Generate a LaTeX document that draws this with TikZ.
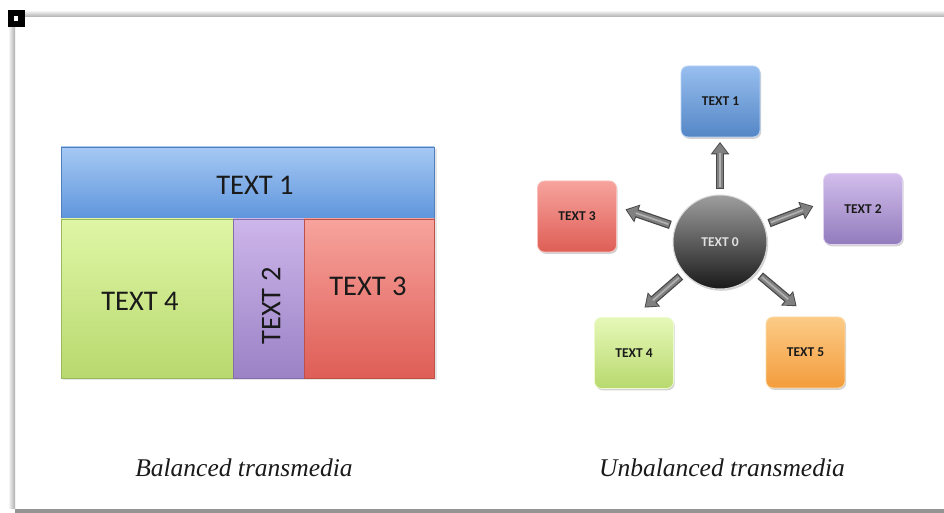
\documentclass[tikz,border=0pt]{standalone}
\usepackage{fontspec}
\setmainfont{Liberation Serif}
\newfontfamily\labelfont{Carlito}
\usetikzlibrary{shadows,arrows.meta,calc}

% tile colours (top / bottom of each gradient)
\definecolor{blueT}{HTML}{A6C9F4}
\definecolor{blueB}{HTML}{5E95DC}
\definecolor{greenT}{HTML}{DFF6A6}
\definecolor{greenB}{HTML}{B8D96E}
\definecolor{purpT}{HTML}{CDB6EA}
\definecolor{purpB}{HTML}{9A82C6}
\definecolor{redT}{HTML}{F7A39D}
\definecolor{redB}{HTML}{DE5E56}
\definecolor{orangeT}{HTML}{FCCB86}
\definecolor{orangeB}{HTML}{F39C3C}
\definecolor{inkdark}{HTML}{1A1A1A}

\tikzset{
  tile/.style 2 args={rectangle, inner sep=0pt, outer sep=0pt,
    top color=#1, bottom color=#2, draw=#2!85!black, line width=0.5pt},
  bigtext/.style={font=\labelfont\fontsize{28.5}{32}\selectfont, text=inkdark, inner sep=0pt},
  hubbox/.style 2 args={rectangle, rounded corners=7pt, minimum width=79pt,
    minimum height=71pt, top color=#1, bottom color=#2,
    draw=#1!70!white, line width=0.8pt,
    drop shadow={shadow xshift=1.2pt, shadow yshift=-1.8pt, opacity=0.35},
    font=\labelfont\bfseries\fontsize{13.5}{15}\selectfont, text=inkdark},
  hub/.style={circle, minimum size=94pt, inner sep=0pt,
    top color=black!38, bottom color=black!90, draw=black!15, line width=1pt,
    drop shadow={shadow xshift=1.2pt, shadow yshift=-1.8pt, opacity=0.35},
    font=\labelfont\bfseries\fontsize{13.5}{15}\selectfont, text=white!88!black},
  arrowedge/.style={line width=8.5pt, draw=black!72, shorten <=5pt,
    -{Triangle[width=18pt,length=12.5pt]}},
  arrowbody/.style={line width=6pt, draw=black!50, shorten <=6.2pt, shorten >=1.5pt,
    -{Triangle[width=14.5pt,length=10pt]}},
  arrowshine/.style={line width=1.6pt, draw=black!30, shorten <=7pt, shorten >=11pt},
  caption/.style={font=\itshape\fontsize{25.5}{28}\selectfont, text=inkdark, inner sep=0pt}
}

\begin{document}
\begin{tikzpicture}[x=1pt, y=1pt]
  \useasboundingbox (0,0) rectangle (944,513);
  \fill[white] (0,0) rectangle (944,513);

  % page edges
  \shade[top color=white, bottom color=black!32] (8,496) rectangle (944,503);
  \shade[left color=white, right color=black!32] (8,4) rectangle (15,496);
  \fill[black!42] (15,0) rectangle (944,4);
  \fill[black] (8,486) rectangle (25,503);
  \fill[white] (14,492) rectangle (18,496.5);

  % ---------- balanced layout ----------
  \fill[black!10] (63,133) rectangle (436.5,364);
  \node[tile={blueT}{blueB}, minimum width=373pt, minimum height=72pt,
        anchor=south west] (b1) at (61,294) {};
  \node[tile={greenT}{greenB}, minimum width=172pt, minimum height=159pt,
        anchor=south west] (b4) at (61,135) {};
  \node[tile={purpT}{purpB}, minimum width=71pt, minimum height=159pt,
        anchor=south west] (b2) at (233,135) {};
  \node[tile={redT}{redB}, minimum width=130pt, minimum height=159pt,
        anchor=south west] (b3) at (304,135) {};

  \node[bigtext] (l1) at (255,328) {TEXT 1};
  \node[bigtext] (l4) at (140,212) {TEXT 4};
  \node[bigtext, rotate=90] (l2) at (271,207) {TEXT 2};
  \node[bigtext] (l3) at (368,227) {TEXT 3};

  % ---------- unbalanced layout ----------
  \node[hubbox={blueT!80!blueB}{blueB!90!black}] (h1) at (720.5,411.5) {TEXT 1};
  \node[hubbox={purpT!90!white}{purpB!95!black}] (h2) at (863,304) {TEXT 2};
  \node[hubbox={redT}{redB}] (h3) at (577,296.5) {TEXT 3};
  \node[hubbox={greenT!80!white}{greenB}] (h4) at (634,160) {TEXT 4};
  \node[hubbox={orangeT}{orangeB}] (h5) at (805.5,160.5) {TEXT 5};

  \node[hub] (c0) at (720,271) {TEXT 0};

  \foreach \ang/\n in {90/1, 21/2, 161/3, 221/4, 320/5} {
    \coordinate (tip\n) at ($(c0)+(\ang:100)$);
    \draw[arrowedge] (c0.\ang) -- (tip\n);
    \draw[arrowbody] (c0.\ang) -- (tip\n);
    \draw[arrowshine] (c0.\ang) -- (tip\n);
  }

  % ---------- captions ----------
  \node[caption] (capL) at (244,45) {Balanced transmedia};
  \node[caption] (capR) at (722,45) {Unbalanced transmedia};
\end{tikzpicture}
\end{document}
